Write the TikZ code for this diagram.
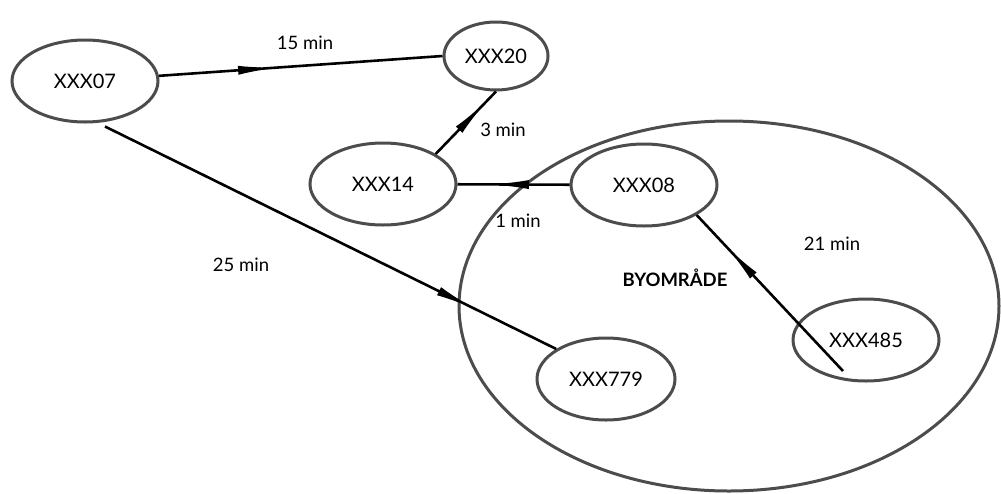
\documentclass[tikz,border=0pt]{standalone}
\usepackage{fontspec}
\setmainfont{Lato}
\usetikzlibrary{shapes.geometric,arrows.meta,decorations.markings}
\tikzstyle{stop}=[ellipse,draw=black!70,line width=3pt,
                  inner sep=0pt,minimum width=146pt,minimum height=82pt,
                  font=\fontsize{20}{20}\selectfont]
\tikzstyle{lbl}=[font=\fontsize{18.5}{18.5}\selectfont]
\tikzstyle{trip}=[line width=2.6pt,decoration={markings,
                  mark=at position #1 with {\arrow{Latex[length=40pt,width=9pt]}}},
                  postaction={decorate}]

\begin{document}
\begin{tikzpicture}[x=1pt,y=-1pt]
    \useasboundingbox (0,0) rectangle (1001,493);
    % town area
    \node (byomr) at (729,306) [ellipse,draw=black!70,line width=3pt,
          minimum width=540pt,minimum height=370pt]{};
    \node (bytxt) at (675,278) [font=\fontsize{18.5}{18.5}\selectfont\bfseries]{BYOMRÅDE};
    % stops
    \node (s07)  at ( 85, 81) [stop]{XXX07};
    \node (s20)  at (496, 56) [stop,minimum width=104pt,minimum height=68pt]{XXX20};
    \node (s14)  at (383,184) [stop]{XXX14};
    \node (s08)  at (644,185) [stop]{XXX08};
    \node (s779) at (606,379) [stop,minimum width=138pt]{XXX779};
    \node (s485) at (866,340) [stop]{XXX485};
    \coordinate (c485) at (843,371);
    % trips
    \draw[trip=0.42] (s07) -- (s20.west);
    \draw[trip=0.85] (s14.north east) -- (s20.south);
    \draw[trip=0.72] (s08) -- (s14);
    \draw[trip=0.82] (s07.south) ++(20,3) -- (s779.north west);
    \draw[trip=0.8] (c485) -- (s08.south east);
    % times
    \node (t15) at (305, 43) [lbl]{15 min};
    \node (t3)  at (503,130) [lbl]{3 min};
    \node (t1)  at (518,221) [lbl]{1 min};
    \node (t25) at (241,265) [lbl]{25 min};
    \node (t21) at (832,244) [lbl]{21 min};
  \end{tikzpicture}
\end{document}
